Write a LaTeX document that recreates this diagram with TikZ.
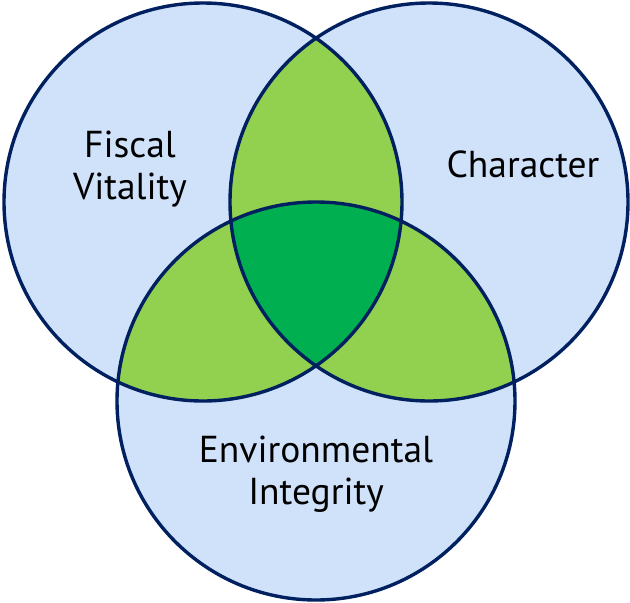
\documentclass[tikz,border=0pt]{standalone}
\usepackage{fontspec}
\setsansfont{PT Sans}
\usepackage{tikz}
\definecolor{ringline}{RGB}{0,32,96}
\definecolor{ringfill}{RGB}{207,226,250}
\definecolor{pairgreen}{RGB}{146,208,80}
\definecolor{coregreen}{RGB}{0,176,80}
\tikzset{
    ring/.style={line width=3.4pt,draw=ringline},
    label/.style={font=\sffamily\fontsize{37.5}{42}\selectfont,align=center,text=black}
}

\begin{document}
\begin{tikzpicture}[x=1pt,y=-1pt]
    \useasboundingbox (0,0) rectangle (630,603);
    \coordinate (f) at (203,202);
    \coordinate (c) at (429,202);
    \coordinate (e) at (316,401);
    \fill[ringfill] (f) circle (199pt) (c) circle (199pt) (e) circle (199pt);
    \begin{scope}
        \clip (f) circle (199pt);
        \fill[pairgreen] (c) circle (199pt) (e) circle (199pt);
    \end{scope}
    \begin{scope}
        \clip (c) circle (199pt);
        \fill[pairgreen] (e) circle (199pt);
    \end{scope}
    \begin{scope}
        \clip (f) circle (199pt);
        \clip (c) circle (199pt);
        \fill[coregreen] (e) circle (199pt);
    \end{scope}
    \draw[ring] (f) circle (199pt);
    \draw[ring] (c) circle (199pt);
    \draw[ring] (e) circle (199pt);
    \node[label] (fv) at (130,169) {Fiscal\\Vitality};
    \node[label] (ch) at (523,164) {Character};
    \node[label] (ei) at (316,474) {Environmental\\Integrity};
\end{tikzpicture}
\end{document}
